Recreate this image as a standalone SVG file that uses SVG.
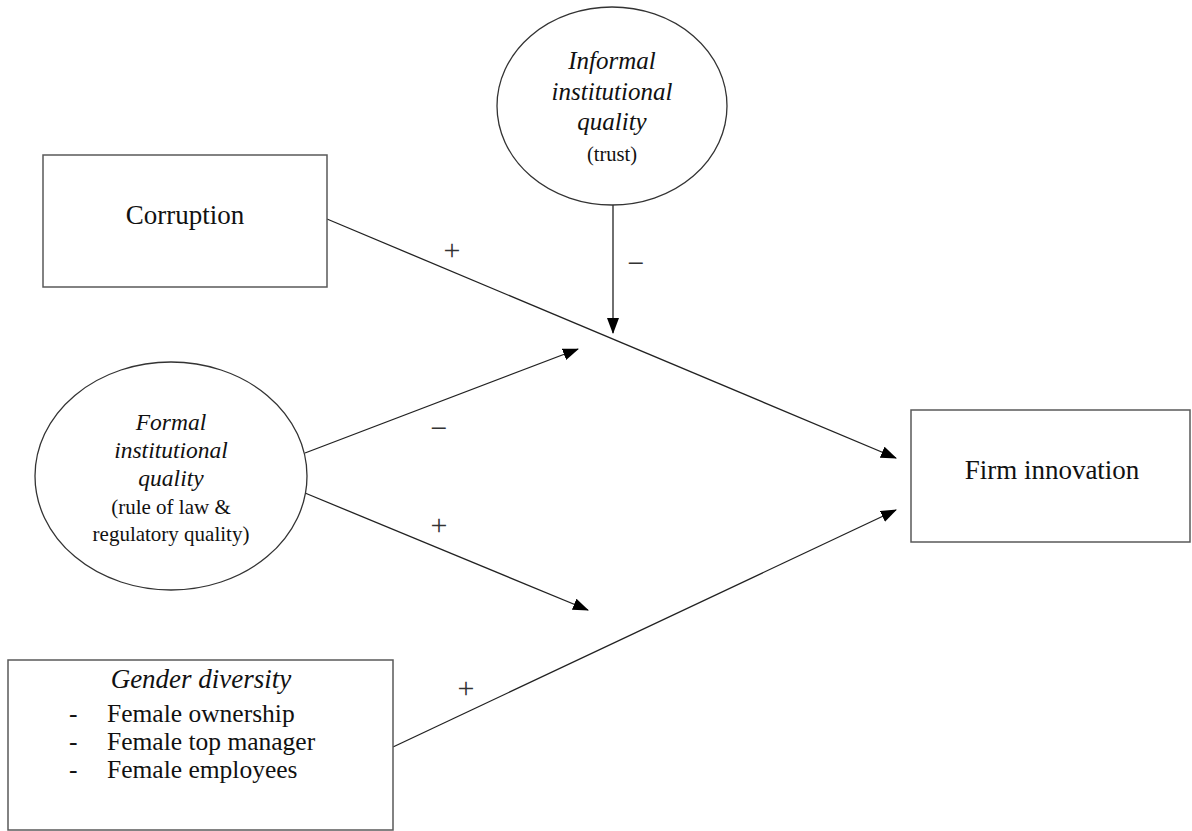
<svg xmlns="http://www.w3.org/2000/svg" width="1192" height="831" viewBox="0 0 1192 831">
<defs>
<marker id="arr" viewBox="0 0 16 12" refX="15" refY="6" markerWidth="16" markerHeight="12" markerUnits="userSpaceOnUse" orient="auto">
<path d="M0,0 L16,6 L0,12 z" fill="#000"/>
</marker>
<style>
.box{fill:#fff;stroke:#595959;stroke-width:1.5}
.ell{fill:#fff;stroke:#333;stroke-width:1.3}
text{font-family:'Liberation Serif','DejaVu Serif',serif}
.t{fill:#111;text-anchor:middle}
.it{font-style:italic}
.l{fill:#111}
.c{stroke:#222;stroke-width:1.3;fill:none;marker-end:url(#arr)}
.s{fill:#333;text-anchor:middle;font-size:30px}
</style>
</defs>
<rect width="1192" height="831" fill="#fff"/>
<g id="connectors" font-family="Liberation Serif, serif">
<line class="c" x1="327" y1="219" x2="896" y2="458"/>
<line class="c" x1="613" y1="205" x2="613" y2="333"/>
<line class="c" x1="305" y1="453" x2="578" y2="349"/>
<line class="c" x1="305" y1="493" x2="588" y2="610"/>
<line class="c" x1="393" y1="747" x2="896" y2="510"/>
<text class="s" x="452" y="260">+</text>
<text class="s" x="636" y="273">−</text>
<text class="s" x="439" y="438">−</text>
<text class="s" x="439" y="535">+</text>
<text class="s" x="466" y="698">+</text>
</g>
<g id="corruption" font-family="Liberation Serif, serif">
<rect class="box" x="43" y="155" width="284" height="132"/>
<text class="t" x="185" y="224" font-size="27">Corruption</text>
</g>
<g id="informal" font-family="Liberation Serif, serif">
<ellipse class="ell" cx="612" cy="106" rx="115" ry="99"/>
<text class="t it" x="612" y="69" font-size="25">Informal</text>
<text class="t it" x="612" y="100" font-size="25">institutional</text>
<text class="t it" x="612" y="130" font-size="25">quality</text>
<text class="t" x="612" y="161" font-size="20.5">(trust)</text>
</g>
<g id="formal" font-family="Liberation Serif, serif">
<ellipse class="ell" cx="171" cy="476" rx="136" ry="114"/>
<text class="t it" x="171" y="430" font-size="23.5">Formal</text>
<text class="t it" x="171" y="458" font-size="23.5">institutional</text>
<text class="t it" x="171" y="486" font-size="23.5">quality</text>
<text class="t" x="171" y="514" font-size="21">(rule of law &amp;</text>
<text class="t" x="171" y="541" font-size="21">regulatory quality)</text>
</g>
<g id="firm" font-family="Liberation Serif, serif">
<rect class="box" x="911" y="410" width="279" height="132"/>
<text class="t" x="1052" y="479" font-size="27">Firm innovation</text>
</g>
<g id="gender" font-family="Liberation Serif, serif">
<rect class="box" x="8" y="660" width="385" height="170"/>
<text class="t it" x="201" y="688" font-size="27">Gender diversity</text>
<text class="l" x="69" y="722" font-size="25.5">-</text>
<text class="l" x="107" y="722" font-size="25.5">Female ownership</text>
<text class="l" x="69" y="750" font-size="25.5">-</text>
<text class="l" x="107" y="750" font-size="25.5">Female top manager</text>
<text class="l" x="69" y="778" font-size="25.5">-</text>
<text class="l" x="107" y="778" font-size="25.5">Female employees</text>
</g>
</svg>
